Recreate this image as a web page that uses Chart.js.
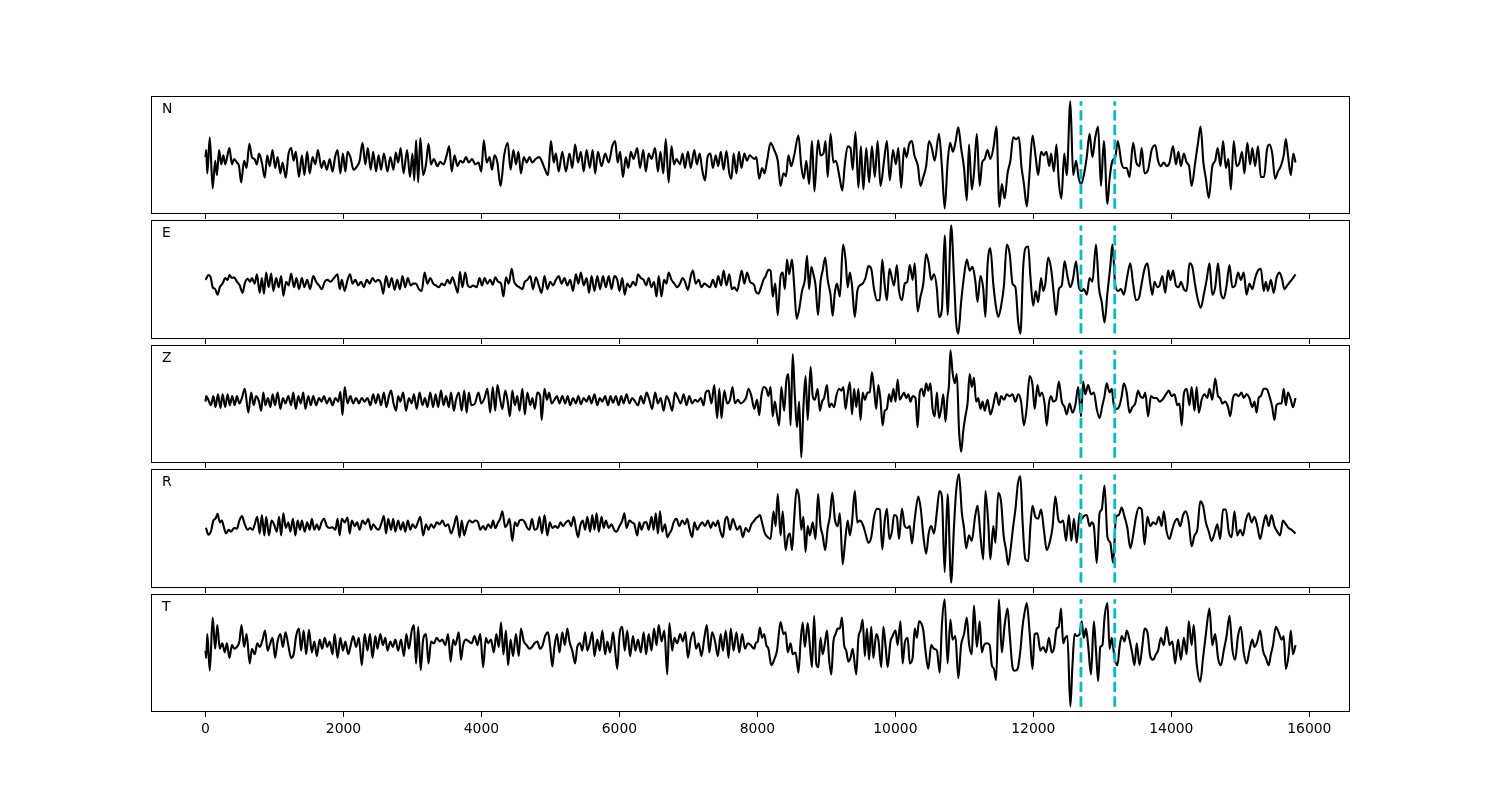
<!DOCTYPE html>
<html>
<head>
<meta charset="utf-8">
<script src="https://cdn.jsdelivr.net/npm/chart.js"></script>
<style>
  html, body { margin: 0; padding: 0; background: #fff; }
  #wrap { position: relative; width: 1500px; height: 800px; overflow: hidden; background: #fff; }
</style>
</head>
<body>
<div id="wrap"></div>
<script>
// component names, shared x ticks and the two pick times (dashed cyan lines)
const channels = ['N', 'E', 'Z', 'R', 'T'];
const xTicks = [0, 2000, 4000, 6000, 8000, 10000, 12000, 14000, 16000];
const pickTimes = [12690, 13180];

// [time, amplitude] samples
const nSamples = [[0,5],[10,25],[26,-40],[62,60],[104,-82],[140,-5],[166,-45],[197,25],[228,-15],[259,10],[285,-15],[347,30],[383,-15],[414,0],[455,-10],[486,-20],[517,-65],[559,-5],[595,-25],[636,42],[673,5],[709,0],[745,-15],[776,15],[817,-10],[859,-52],[895,10],[931,-20],[972,25],[1009,-25],[1045,5],[1086,-40],[1117,-10],[1164,-52],[1200,10],[1241,30],[1278,-5],[1309,20],[1355,-50],[1397,10],[1433,-45],[1474,20],[1510,-40],[1552,5],[1593,-15],[1629,25],[1681,-25],[1717,-5],[1759,-30],[1800,0],[1841,-35],[1878,5],[1914,25],[1955,-40],[1991,15],[2028,-35],[2059,20],[2100,5],[2147,-30],[2198,-20],[2234,-5],[2276,45],[2317,-15],[2353,30],[2395,-30],[2431,20],[2472,-35],[2509,10],[2545,-30],[2586,15],[2638,-35],[2679,5],[2726,-30],[2757,18],[2793,-10],[2829,30],[2871,-40],[2922,25],[2964,-50],[3000,15],[3026,-60],[3052,52],[3083,-65],[3114,58],[3155,-45],[3196,-15],[3233,42],[3269,-15],[3310,0],[3362,-20],[3403,-8],[3450,-15],[3496,10],[3533,35],[3569,-35],[3610,10],[3652,-20],[3693,-5],[3734,-10],[3776,5],[3817,-10],[3864,0],[3910,-15],[3957,-10],[3998,-35],[4034,52],[4076,-10],[4117,5],[4153,-30],[4189,10],[4231,-10],[4277,-75],[4329,10],[4381,45],[4422,-30],[4463,25],[4500,-15],[4536,20],[4572,-40],[4614,5],[4655,-10],[4696,5],[4738,-10],[4784,0],[4836,5],[4872,-5],[4914,-25],[4965,-45],[5007,50],[5048,-10],[5079,15],[5120,-35],[5172,20],[5224,-35],[5276,15],[5317,-25],[5358,40],[5400,-10],[5441,20],[5482,-35],[5524,25],[5570,-25],[5612,25],[5648,-40],[5689,20],[5741,-20],[5793,15],[5845,-10],[5896,35],[5938,50],[5974,-10],[6010,20],[6051,-50],[6093,5],[6129,-25],[6165,20],[6206,0],[6258,30],[6299,-25],[6346,25],[6382,-35],[6424,15],[6465,0],[6517,30],[6558,-35],[6594,20],[6636,-40],[6672,55],[6713,-65],[6755,35],[6791,-15],[6827,0],[6879,-15],[6915,15],[6951,-25],[6993,20],[7034,-25],[7086,25],[7122,-15],[7163,15],[7200,-30],[7241,-60],[7277,5],[7319,15],[7355,-25],[7396,10],[7432,-20],[7469,20],[7510,-30],[7551,22],[7593,-40],[7624,-55],[7655,15],[7696,-40],[7732,20],[7769,-25],[7810,15],[7851,-5],[7887,10],[7955,0],
  [7985,5],[8026,-55],[8067,-25],[8103,-40],[8140,-5],[8191,45],[8243,25],[8295,-5],[8336,-75],[8378,-40],[8414,-48],[8450,10],[8491,-20],[8533,10],[8595,65],[8636,-20],[8672,-55],[8709,-5],[8750,-70],[8791,50],[8827,-90],[8879,52],[8915,10],[8957,15],[8988,50],[9019,-50],[9060,70],[9102,-10],[9138,-5],[9190,-50],[9231,-88],[9267,-15],[9309,35],[9350,30],[9381,-30],[9422,75],[9464,-80],[9500,35],[9536,-85],[9578,30],[9619,-65],[9660,35],[9702,-50],[9743,50],[9784,-75],[9836,-5],[9877,50],[9919,-60],[9965,25],[10007,-15],[10043,30],[10084,-80],[10126,30],[10162,5],[10198,40],[10240,50],[10276,10],[10327,-20],[10364,-75],[10405,-50],[10446,-20],[10488,50],[10529,30],[10570,-5],[10632,70],[10674,-20],[10715,-138],[10757,-10],[10793,45],[10834,20],[10870,45],[10912,88],[10953,30],[10995,-25],[11036,-115],[11067,40],[11108,-85],[11139,-40],[11181,70],[11222,-75],[11258,-10],[11295,0],[11336,25],[11377,0],[11424,35],[11465,90],[11507,-133],[11543,-70],[11584,-110],[11626,-40],[11667,-5],[11708,60],[11750,55],[11791,60],[11827,-20],[11864,-70],[11905,-132],[11941,-50],[11988,65],[12034,5],[12070,-45],[12112,20],[12153,10],[12189,20],[12231,-20],[12257,15],[12298,-35],[12334,40],[12370,-65],[12407,-110],[12448,15],[12484,-45],[12536,160],[12577,-45],[12619,-5],[12655,-50],[12691,-70],[12732,-45],[12774,5],[12815,70],[12856,5],[12898,60],[12939,90],[12980,-75],[13022,50],[13074,-125],[13105,-55],[13146,-5],[13188,5],[13224,50],[13276,-10],[13312,-25],[13353,-25],[13394,-50],[13446,45],[13493,-10],[13539,-20],[13570,30],[13612,-40],[13663,-30],[13715,25],[13767,38],[13808,-5],[13849,-20],[13891,-10],[13932,-20],[13974,-10],[14025,35],[14067,-15],[14103,20],[14139,-20],[14181,15],[14222,-10],[14258,-20],[14294,-75],[14346,-10],[14387,45],[14424,90],[14465,-10],[14501,-55],[14543,-108],[14594,-20],[14636,-5],[14672,30],[14713,-20],[14750,50],[14791,-25],[14827,0],[14863,-85],[14905,50],[14946,-20],[14987,-10],[15024,20],[15060,-40],[15101,45],[15143,-15],[15174,30],[15215,-20],[15256,35],[15298,-50],[15344,-50],[15386,25],[15422,40],[15463,15],[15504,-55],[15546,-35],[15587,-20],[15629,10],[15660,55],[15691,10],[15732,-45],[15768,15],[15800,-10]];

const eSamples = [[0,5],[10,8],[41,18],[78,10],[104,-15],[140,-20],[176,-35],[207,-15],[248,-5],[285,10],[321,5],[347,18],[383,10],[414,12],[455,0],[497,-10],[538,-30],[569,-5],[610,8],[647,0],[673,10],[714,-5],[745,20],[786,-30],[817,10],[848,-32],[879,25],[916,-15],[952,22],[983,-25],[1024,10],[1060,-15],[1097,15],[1128,-38],[1169,0],[1205,-10],[1241,22],[1283,-15],[1319,10],[1355,-20],[1397,10],[1433,-15],[1474,5],[1516,-20],[1562,15],[1603,0],[1645,-10],[1686,-20],[1728,0],[1769,5],[1810,0],[1862,10],[1914,20],[1945,-20],[1976,5],[2017,-25],[2059,5],[2095,20],[2131,-5],[2172,5],[2214,-10],[2255,0],[2296,-15],[2338,5],[2379,-5],[2421,10],[2462,0],[2503,5],[2545,-5],[2576,-32],[2617,15],[2659,-15],[2700,10],[2741,-22],[2778,5],[2819,-20],[2855,15],[2896,-15],[2933,10],[2974,-10],[3010,-5],[3051,-5],[3093,-20],[3134,-25],[3176,25],[3217,-5],[3258,10],[3300,-5],[3341,-10],[3383,-15],[3424,-5],[3465,-10],[3507,5],[3543,-5],[3579,12],[3621,-10],[3657,-30],[3688,27],[3724,-15],[3765,25],[3802,-10],[3838,-15],[3879,-10],[3931,-15],[3972,10],[4008,-10],[4045,10],[4086,-5],[4127,5],[4164,-8],[4200,12],[4241,0],[4283,-5],[4319,-40],[4355,12],[4396,-5],[4438,35],[4474,0],[4510,-10],[4552,-15],[4593,-20],[4629,0],[4665,5],[4707,15],[4748,-20],[4789,12],[4831,-10],[4872,-30],[4914,15],[4955,-20],[4996,0],[5038,-10],[5079,5],[5120,15],[5162,-5],[5203,10],[5245,-10],[5286,5],[5327,-25],[5369,20],[5405,-5],[5441,25],[5482,-10],[5524,10],[5560,-30],[5596,15],[5638,-25],[5679,15],[5720,-20],[5762,15],[5803,-15],[5845,15],[5886,-20],[5927,15],[5969,5],[6000,-25],[6041,10],[6077,-35],[6113,-5],[6155,-15],[6196,0],[6238,-10],[6269,20],[6310,10],[6351,5],[6387,-10],[6424,10],[6465,-15],[6501,0],[6538,-40],[6569,15],[6610,-40],[6646,5],[6682,-5],[6713,25],[6755,5],[6796,-5],[6837,-15],[6879,-5],[6915,10],[6951,0],[6993,-22],[7034,15],[7065,30],[7106,-5],[7148,5],[7189,-15],[7231,-5],[7272,-10],[7313,-15],[7355,5],[7396,-15],[7432,15],[7474,-10],[7510,30],[7551,-10],[7593,20],[7629,-20],[7665,-15],[7706,-25],[7742,5],[7773,30],[7810,-5],[7851,25],[7893,0],[7955,-10],
  [7974,-25],[8016,-32],[8052,-15],[8088,5],[8119,15],[8160,32],[8191,30],[8222,-40],[8259,-5],[8295,-90],[8336,15],[8367,25],[8398,-20],[8429,60],[8460,20],[8502,60],[8533,-10],[8569,-100],[8605,-75],[8647,-25],[8688,5],[8719,70],[8750,-20],[8781,40],[8812,20],[8843,-10],[8879,-90],[8915,0],[8946,30],[8983,65],[9019,5],[9060,-35],[9091,-92],[9122,-30],[9153,-5],[9195,-40],[9241,100],[9278,60],[9309,-15],[9340,25],[9371,-10],[9412,-95],[9448,-25],[9484,-10],[9526,-5],[9567,10],[9609,42],[9650,35],[9691,-20],[9733,-50],[9774,-50],[9810,60],[9846,-10],[9877,-50],[9914,35],[9950,10],[9981,-10],[10022,45],[10053,-25],[10095,-50],[10136,-5],[10172,0],[10209,45],[10250,5],[10281,50],[10322,-80],[10364,-40],[10405,-5],[10446,75],[10483,50],[10519,5],[10560,20],[10602,-20],[10633,-95],[10674,-75],[10715,125],[10757,-90],[10808,152],[10850,10],[10881,-110],[10912,-140],[10953,-55],[10995,15],[11036,60],[11077,30],[11119,40],[11160,0],[11191,-55],[11233,15],[11274,-20],[11305,-95],[11336,45],[11377,90],[11419,-5],[11460,-70],[11491,-95],[11533,-65],[11574,-10],[11615,100],[11657,75],[11698,-5],[11740,-15],[11781,-110],[11812,-140],[11853,40],[11884,90],[11926,95],[11957,15],[11998,-65],[12034,-25],[12070,-55],[12112,10],[12143,-25],[12174,-5],[12215,65],[12257,35],[12298,-35],[12329,-90],[12370,-20],[12412,-10],[12453,55],[12494,15],[12536,-15],[12577,10],[12619,55],[12660,-15],[12701,-25],[12732,-20],[12774,-35],[12815,10],[12856,0],[12908,100],[12950,-15],[12991,-55],[13032,-110],[13074,-30],[13115,40],[13146,100],[13188,-10],[13229,-25],[13270,-20],[13312,-35],[13353,5],[13405,50],[13446,-5],[13488,-50],[13529,-45],[13570,-5],[13612,35],[13653,50],[13695,-5],[13725,-35],[13756,0],[13798,-15],[13829,-10],[13870,15],[13912,-30],[13953,30],[13989,5],[14025,30],[14067,-10],[14108,-15],[14139,0],[14181,-20],[14222,-25],[14263,50],[14305,40],[14346,-10],[14387,-50],[14428,-70],[14470,-35],[14512,5],[14553,50],[14594,-35],[14636,-15],[14677,50],[14718,-30],[14760,-45],[14801,-10],[14843,45],[14884,-15],[14925,-10],[14967,25],[15008,5],[15049,25],[15091,-35],[15132,-5],[15174,-20],[15215,10],[15256,30],[15298,35],[15339,-25],[15370,0],[15401,-25],[15443,5],[15484,-30],[15525,10],[15567,25],[15608,5],[15639,-20],[15680,-10],[15722,0],[15763,10],[15800,20]];

const zSamples = [[0,-3],[10,12],[41,2],[78,-13],[114,12],[145,-18],[181,17],[217,-20],[248,17],[285,-18],[321,17],[352,-13],[388,12],[424,-13],[455,12],[491,-8],[528,7],[569,32],[621,-33],[662,22],[698,-13],[735,12],[776,-3],[807,-28],[838,22],[869,-13],[905,7],[941,-18],[972,17],[1009,-13],[1045,22],[1086,-23],[1122,7],[1159,-8],[1200,12],[1241,-13],[1272,22],[1309,-23],[1345,12],[1381,-8],[1417,22],[1448,-23],[1490,12],[1526,-13],[1562,12],[1603,-13],[1645,7],[1681,-3],[1717,12],[1759,-8],[1800,7],[1841,-13],[1883,7],[1924,-3],[1955,24],[1986,-40],[2017,37],[2059,-8],[2100,12],[2141,-8],[2183,7],[2224,-8],[2265,7],[2307,-3],[2348,7],[2390,-13],[2431,17],[2467,-8],[2503,17],[2545,-13],[2586,22],[2622,-18],[2659,12],[2690,27],[2726,-8],[2762,-28],[2793,12],[2824,-3],[2865,22],[2907,-28],[2948,7],[2990,-8],[3021,17],[3062,-23],[3103,22],[3145,-13],[3181,7],[3217,-18],[3258,22],[3300,-18],[3336,17],[3372,-18],[3414,27],[3450,-13],[3486,12],[3527,-18],[3559,22],[3600,-28],[3631,2],[3672,22],[3714,-28],[3750,27],[3786,-33],[3817,22],[3853,-13],[3905,-8],[3957,22],[3998,-8],[4045,7],[4086,32],[4127,-33],[4164,37],[4200,-28],[4231,42],[4267,7],[4303,-23],[4345,27],[4381,-3],[4412,-43],[4448,27],[4484,-13],[4520,12],[4552,-28],[4593,32],[4629,-38],[4665,22],[4707,-13],[4738,7],[4774,-23],[4810,22],[4851,12],[4872,-53],[4914,32],[4950,2],[4981,22],[5017,-8],[5058,2],[5095,12],[5131,-8],[5172,12],[5214,-8],[5250,12],[5286,-13],[5327,7],[5369,-8],[5405,12],[5441,-10],[5482,7],[5524,-3],[5560,12],[5596,-8],[5638,17],[5679,-13],[5715,7],[5752,-3],[5793,12],[5834,-13],[5870,12],[5907,-6],[5948,12],[5989,-13],[6026,12],[6062,-8],[6103,17],[6145,-8],[6186,7],[6227,-3],[6269,-13],[6310,12],[6351,-8],[6393,22],[6434,2],[6475,-23],[6517,22],[6558,-8],[6599,7],[6641,-28],[6682,12],[6724,-3],[6765,-28],[6806,22],[6848,7],[6889,-8],[6931,17],[6972,-13],[7013,12],[7055,-8],[7096,2],[7137,-3],[7179,7],[7220,-13],[7251,22],[7293,27],[7334,-8],[7375,42],[7417,-48],[7448,32],[7479,-48],[7520,27],[7562,-8],[7603,2],[7639,37],[7675,-8],[7717,2],[7758,-8],[7799,-3],[7835,7],[7872,32],[7913,12],[7955,-23],
  [7995,2],[8026,-40],[8057,12],[8088,37],[8129,32],[8160,12],[8191,37],[8222,-43],[8253,-3],[8284,-38],[8315,-68],[8347,37],[8388,-28],[8419,52],[8450,72],[8481,-68],[8512,127],[8543,12],[8574,-73],[8605,-3],[8636,-156],[8667,-18],[8698,67],[8729,-53],[8771,92],[8802,12],[8833,2],[8874,32],[8905,-28],[8936,-3],[8967,7],[9009,42],[9040,-18],[9071,-8],[9112,-18],[9143,12],[9184,32],[9215,27],[9246,37],[9277,-23],[9308,17],[9340,50],[9371,-38],[9402,32],[9433,-18],[9464,32],[9495,-53],[9526,22],[9557,2],[9598,22],[9629,22],[9660,77],[9691,32],[9722,-23],[9753,42],[9784,2],[9815,-68],[9846,-28],[9877,-23],[9908,17],[9940,-3],[9971,32],[10002,-3],[10033,57],[10064,2],[10095,12],[10126,22],[10157,7],[10188,17],[10219,-3],[10250,12],[10291,7],[10322,-73],[10353,22],[10384,32],[10415,12],[10446,47],[10477,27],[10508,47],[10539,-23],[10570,-43],[10602,22],[10633,-48],[10664,-23],[10695,17],[10726,-58],[10757,12],[10777,42],[10798,137],[10829,77],[10860,47],[10891,72],[10922,-78],[10953,-140],[10984,-83],[11015,-43],[11046,-8],[11077,72],[11108,37],[11139,62],[11170,-3],[11201,7],[11233,-23],[11264,-3],[11295,-28],[11336,2],[11377,-38],[11419,-13],[11460,22],[11501,-13],[11533,12],[11574,2],[11615,17],[11657,12],[11698,17],[11740,-3],[11781,17],[11822,-3],[11864,-68],[11905,-18],[11946,67],[11988,42],[12019,-23],[12060,42],[12091,12],[12122,22],[12163,-8],[12194,-68],[12226,-8],[12257,12],[12288,-3],[12329,2],[12370,52],[12412,-3],[12453,-18],[12484,-38],[12525,-8],[12567,-33],[12608,-13],[12650,37],[12691,-43],[12722,52],[12753,17],[12794,42],[12836,17],[12877,22],[12919,-23],[12960,-48],[13001,-13],[13032,12],[13063,47],[13105,22],[13136,32],[13167,-13],[13208,-23],[13250,-13],[13281,12],[13312,47],[13353,22],[13394,-33],[13436,-18],[13477,-8],[13519,27],[13550,12],[13591,7],[13622,22],[13663,-43],[13705,12],[13746,7],[13787,7],[13829,-3],[13870,2],[13922,17],[13963,27],[14005,12],[14046,17],[14087,-13],[14119,-8],[14150,-68],[14181,17],[14222,32],[14263,-13],[14294,37],[14336,-28],[14367,37],[14398,-33],[14439,2],[14480,17],[14522,7],[14553,32],[14594,2],[14636,60],[14677,12],[14708,7],[14739,-8],[14781,-3],[14822,-18],[14853,-43],[14894,7],[14936,17],[14977,12],[15018,22],[15049,7],[15091,17],[15132,7],[15174,-18],[15205,-3],[15236,-33],[15267,7],[15298,12],[15339,32],[15380,32],[15422,12],[15463,-18],[15494,-53],[15525,-13],[15567,-8],[15598,-8],[15629,32],[15660,-13],[15691,22],[15732,2],[15763,-18],[15800,7]];

const rSamples = [[0,-2],[10,-4],[41,-20],[78,-12],[114,18],[145,23],[176,36],[207,13],[238,18],[269,-2],[300,-17],[336,-7],[372,-12],[414,-2],[455,-4],[491,18],[528,30],[569,8],[610,-7],[647,-2],[683,-7],[714,8],[750,28],[786,-17],[817,33],[853,-22],[879,28],[921,-22],[957,18],[993,8],[1034,-12],[1066,28],[1097,-22],[1128,38],[1164,-2],[1200,13],[1231,-12],[1267,23],[1303,-22],[1335,18],[1371,-7],[1397,18],[1438,-12],[1474,13],[1510,-7],[1541,23],[1578,-7],[1614,8],[1645,-7],[1681,13],[1717,23],[1759,3],[1800,-2],[1841,0],[1883,-7],[1914,23],[1945,-22],[1976,23],[2017,13],[2059,26],[2090,-17],[2121,18],[2162,3],[2198,13],[2234,-7],[2276,18],[2317,8],[2359,23],[2400,-7],[2431,8],[2472,-2],[2509,-7],[2545,8],[2586,30],[2617,-17],[2648,23],[2690,-7],[2721,23],[2752,-12],[2793,18],[2829,-7],[2865,13],[2896,-12],[2933,18],[2969,-7],[3000,8],[3041,-2],[3078,13],[3114,28],[3155,-22],[3196,8],[3233,-7],[3269,8],[3310,-2],[3352,13],[3393,8],[3434,18],[3476,3],[3517,8],[3559,-17],[3600,3],[3641,30],[3683,-27],[3714,18],[3750,-22],[3786,3],[3827,18],[3869,13],[3910,18],[3952,13],[3983,-7],[4024,3],[4060,-7],[4096,8],[4138,-2],[4169,18],[4200,-2],[4241,13],[4272,23],[4303,43],[4345,0],[4376,8],[4407,23],[4448,-37],[4484,13],[4520,3],[4552,18],[4593,20],[4629,13],[4665,-2],[4696,-7],[4733,23],[4769,-7],[4810,-2],[4841,28],[4877,-17],[4914,33],[4955,-22],[4991,13],[5027,-2],[5069,3],[5110,-2],[5146,13],[5183,3],[5224,13],[5265,18],[5301,3],[5338,28],[5369,-2],[5400,-27],[5431,3],[5467,18],[5503,-7],[5534,28],[5576,-12],[5607,33],[5638,-7],[5669,38],[5700,-12],[5741,28],[5772,-2],[5803,18],[5845,-2],[5886,8],[5922,-7],[5958,-12],[6000,3],[6041,18],[6072,38],[6103,-2],[6145,18],[6181,13],[6217,8],[6258,-22],[6289,13],[6320,-7],[6362,13],[6393,13],[6424,-7],[6465,28],[6496,-7],[6527,38],[6558,-17],[6589,43],[6620,-12],[6662,8],[6693,-27],[6724,-17],[6755,-7],[6786,13],[6827,23],[6869,3],[6910,18],[6951,8],[6982,23],[7013,-2],[7055,-27],[7086,13],[7127,-7],[7158,3],[7200,13],[7241,3],[7282,18],[7324,-2],[7355,13],[7396,3],[7427,18],[7458,-7],[7500,-27],[7531,18],[7562,28],[7603,-7],[7644,23],[7675,8],[7706,-7],[7748,3],[7789,-27],[7830,-2],[7872,-12],[7913,8],[7955,18],
  [7974,23],[8005,28],[8036,33],[8067,13],[8109,-17],[8150,-27],[8191,-32],[8233,43],[8264,3],[8295,90],[8336,-22],[8367,43],[8409,-62],[8440,-27],[8471,-17],[8502,-62],[8533,23],[8569,103],[8605,78],[8636,-7],[8667,28],[8698,-67],[8729,3],[8760,-22],[8802,13],[8843,-32],[8879,90],[8915,3],[8946,-22],[8983,-62],[9019,-2],[9050,28],[9086,93],[9122,23],[9164,3],[9195,38],[9236,-100],[9267,-47],[9309,18],[9340,-22],[9371,13],[9412,98],[9448,13],[9484,18],[9526,8],[9567,-17],[9609,-42],[9650,-27],[9691,28],[9733,50],[9774,48],[9810,-60],[9846,18],[9877,50],[9914,-32],[9950,-12],[9981,33],[10022,28],[10053,-32],[10095,50],[10136,3],[10172,-2],[10209,3],[10240,-44],[10281,23],[10333,83],[10369,48],[10405,-22],[10446,-72],[10483,-17],[10519,3],[10560,-17],[10602,43],[10638,98],[10674,83],[10715,-122],[10757,90],[10808,-150],[10850,3],[10881,98],[10922,143],[10964,38],[10995,-2],[11026,-57],[11067,-22],[11108,-37],[11155,28],[11191,58],[11233,-22],[11274,-87],[11305,98],[11346,13],[11377,-87],[11419,3],[11450,-42],[11491,93],[11533,68],[11569,-22],[11605,-62],[11636,-102],[11672,-57],[11708,3],[11740,48],[11776,118],[11812,138],[11843,18],[11884,-87],[11926,-92],[11957,3],[11988,58],[12029,28],[12070,23],[12112,48],[12153,-7],[12194,-62],[12236,-42],[12277,-2],[12319,83],[12360,23],[12391,13],[12432,18],[12474,-37],[12515,33],[12551,-37],[12588,23],[12629,-42],[12670,38],[12701,23],[12732,30],[12774,33],[12815,3],[12846,13],[12877,3],[12919,-97],[12960,38],[12991,48],[13032,113],[13074,-27],[13115,-42],[13157,-97],[13198,28],[13239,33],[13281,53],[13322,28],[13363,-2],[13405,-57],[13446,-22],[13488,28],[13529,53],[13570,48],[13612,-47],[13653,28],[13695,3],[13736,13],[13777,8],[13819,28],[13860,3],[13891,43],[13932,-12],[13974,-32],[14005,-12],[14046,13],[14087,23],[14129,3],[14170,33],[14212,43],[14253,13],[14294,-52],[14336,-22],[14377,-7],[14419,70],[14460,58],[14501,13],[14543,-12],[14584,-37],[14625,-17],[14667,8],[14708,-32],[14750,48],[14791,48],[14832,-12],[14874,-27],[14915,43],[14956,-22],[14998,-7],[15039,-22],[15080,18],[15122,38],[15163,13],[15205,28],[15246,3],[15287,-32],[15329,3],[15370,33],[15412,3],[15453,33],[15494,3],[15536,-12],[15577,-22],[15618,18],[15660,8],[15701,-2],[15743,-7],[15800,-17]];

const tSamples = [[0,-10],[10,-30],[26,35],[62,-65],[104,80],[140,-5],[171,60],[207,-5],[243,10],[279,-15],[310,10],[347,-30],[383,5],[414,-5],[455,0],[491,15],[522,60],[559,0],[595,35],[641,-45],[673,-5],[714,-20],[750,10],[786,0],[828,20],[864,45],[900,-10],[931,5],[972,25],[1009,-30],[1045,15],[1086,35],[1122,0],[1159,40],[1200,5],[1241,-30],[1278,-20],[1314,30],[1355,50],[1386,-10],[1422,45],[1459,-20],[1500,47],[1541,-15],[1578,15],[1614,-25],[1655,20],[1691,-5],[1728,25],[1764,0],[1800,15],[1841,-20],[1872,35],[1914,-30],[1955,25],[1991,-10],[2028,15],[2069,-20],[2105,5],[2141,30],[2183,0],[2224,25],[2265,-50],[2307,35],[2348,-10],[2384,35],[2421,-30],[2462,30],[2493,-5],[2534,35],[2571,5],[2607,25],[2638,-10],[2679,15],[2715,0],[2752,20],[2793,-10],[2834,20],[2876,-25],[2912,35],[2948,-5],[2990,45],[3021,60],[3052,-45],[3083,55],[3119,-63],[3155,20],[3196,35],[3233,-45],[3269,15],[3310,10],[3352,25],[3393,15],[3434,20],[3476,5],[3517,35],[3553,-40],[3590,20],[3621,5],[3672,40],[3703,-35],[3734,5],[3776,20],[3817,15],[3858,10],[3900,30],[3941,5],[3983,35],[4024,-55],[4065,25],[4096,10],[4138,20],[4179,-15],[4215,35],[4252,0],[4283,67],[4319,-20],[4355,45],[4386,-50],[4422,20],[4458,-25],[4500,35],[4541,-25],[4572,50],[4614,15],[4655,5],[4696,-5],[4733,0],[4769,10],[4810,15],[4851,-5],[4888,5],[4924,30],[4965,40],[4996,0],[5027,-53],[5058,0],[5095,35],[5131,-15],[5172,40],[5208,5],[5245,50],[5276,15],[5317,-10],[5358,-45],[5389,0],[5431,10],[5462,-10],[5503,40],[5534,-10],[5576,15],[5607,40],[5638,-25],[5679,20],[5715,-10],[5752,45],[5793,-20],[5824,15],[5865,-15],[5907,40],[5938,-10],[5969,-60],[6000,30],[6041,55],[6077,-10],[6113,45],[6155,-25],[6196,30],[6232,-10],[6269,20],[6310,-15],[6351,40],[6387,-20],[6424,35],[6465,-10],[6501,50],[6538,5],[6569,60],[6610,15],[6651,45],[6693,-75],[6724,65],[6765,-10],[6796,25],[6838,10],[6879,35],[6920,15],[6956,40],[6993,-30],[7034,20],[7075,40],[7112,-5],[7148,10],[7189,-25],[7231,25],[7267,60],[7303,-15],[7344,40],[7386,15],[7427,-25],[7468,35],[7500,-10],[7541,45],[7582,-30],[7613,50],[7655,-10],[7696,40],[7737,-15],[7779,35],[7820,-5],[7862,10],[7903,5],[7955,-5],
  [7974,10],[8005,15],[8036,53],[8067,25],[8098,35],[8129,5],[8160,-5],[8202,-50],[8243,-35],[8284,-10],[8336,68],[8378,35],[8409,40],[8440,-15],[8481,10],[8512,-20],[8553,-15],[8595,-70],[8626,15],[8657,67],[8688,0],[8729,65],[8760,5],[8791,-55],[8822,85],[8853,-45],[8884,-55],[8915,25],[8946,-20],[8978,10],[9009,45],[9040,-35],[9071,-75],[9102,15],[9133,35],[9164,50],[9195,50],[9226,80],[9257,5],[9288,-10],[9319,-40],[9350,-30],[9381,-5],[9433,-75],[9464,25],[9495,45],[9526,75],[9557,-25],[9588,50],[9619,-35],[9650,55],[9681,-30],[9722,35],[9753,20],[9795,-55],[9826,55],[9857,5],[9888,-55],[9929,15],[9960,30],[10002,45],[10033,5],[10074,70],[10105,-45],[10136,10],[10178,25],[10209,-45],[10250,-30],[10281,50],[10312,25],[10343,70],[10374,65],[10405,45],[10436,-10],[10477,-60],[10519,5],[10560,-5],[10602,-10],[10643,-70],[10674,60],[10715,130],[10757,-45],[10798,75],[10829,20],[10870,30],[10912,-85],[10953,5],[10995,35],[11036,80],[11067,10],[11108,-20],[11139,113],[11181,0],[11222,70],[11253,-15],[11284,5],[11326,10],[11367,5],[11398,-50],[11429,-60],[11460,-90],[11501,130],[11543,-15],[11584,60],[11626,105],[11657,35],[11698,-55],[11729,-65],[11771,-60],[11812,-10],[11843,55],[11874,95],[11905,120],[11946,40],[11988,-60],[12019,35],[12060,37],[12101,-10],[12143,0],[12184,-15],[12226,25],[12267,-15],[12298,-5],[12339,50],[12370,55],[12401,105],[12432,10],[12463,25],[12494,30],[12536,-163],[12567,-50],[12598,35],[12629,30],[12670,35],[12701,70],[12732,25],[12763,50],[12794,5],[12836,-75],[12877,70],[12908,-10],[12939,-93],[12970,0],[13001,5],[13032,80],[13074,120],[13105,-5],[13136,25],[13177,-30],[13219,-50],[13250,0],[13281,30],[13322,15],[13353,45],[13394,20],[13436,-20],[13467,-50],[13498,10],[13539,-50],[13581,5],[13612,50],[13653,40],[13694,-25],[13736,-35],[13777,-20],[13808,-10],[13849,25],[13891,5],[13932,55],[13974,5],[14015,15],[14056,-45],[14098,20],[14139,-35],[14181,25],[14222,-20],[14253,70],[14294,5],[14325,60],[14367,-45],[14419,-95],[14460,-30],[14501,35],[14553,105],[14594,5],[14636,35],[14677,-30],[14718,-50],[14760,-10],[14801,30],[14843,85],[14884,-5],[14925,-35],[14967,30],[15008,55],[15049,-15],[15091,-45],[15132,-10],[15174,20],[15205,0],[15246,15],[15287,45],[15329,-10],[15370,-30],[15412,-50],[15443,-20],[15474,5],[15515,55],[15556,40],[15598,20],[15629,30],[15660,-60],[15701,-20],[15732,45],[15763,-20],[15800,5]];

const traces = [nSamples, eSamples, zSamples, rSamples, tSamples];

// layout of the five stacked panels (pixels)
const panelTops = [96, 220, 345, 469, 594];
const panelHeights = [118, 119, 118, 119, 118];
const plotLeft = 151, plotRight = 1350;
const padTop = 6, axisRoom = 40;

// box around each panel plus the component letter in the corner
const framePlugin = {
  id: 'frame',
  afterDatasetsDraw(chart, args, opts) {
    const a = chart.chartArea;
    const ctx = chart.ctx;
    ctx.save();
    ctx.strokeStyle = '#000';
    ctx.lineWidth = 1;
    ctx.strokeRect(a.left + 0.5, a.top + 0.5, a.right - a.left - 1, a.bottom - a.top - 1);
    ctx.fillStyle = '#000';
    ctx.font = '13.9px "DejaVu Sans"';
    ctx.textBaseline = 'alphabetic';
    ctx.fillText(opts.label, a.left + 11, a.top + 17);
    ctx.restore();
  }
};

const wrap = document.getElementById('wrap');

traces.forEach((samples, i) => {
  const h = panelHeights[i] + padTop + axisRoom;
  const canvas = document.createElement('canvas');
  canvas.width = 1500;
  canvas.height = h;
  canvas.style.position = 'absolute';
  canvas.style.left = '0px';
  canvas.style.top = (panelTops[i] - padTop) + 'px';
  canvas.style.width = '1500px';
  canvas.style.height = h + 'px';
  wrap.appendChild(canvas);

  const amps = samples.map(s => s[1]);
  const lo = Math.min(...amps);
  const hi = Math.max(...amps);
  const margin = 0.05 * (hi - lo);
  const isLast = i === traces.length - 1;

  const pickSets = pickTimes.map(p => ({
    data: [{ x: p, y: lo }, { x: p, y: hi }],
    borderColor: '#00BFBF',
    borderWidth: 2.8,
    borderDash: [10.3, 4.4],
    pointRadius: 0
  }));

  new Chart(canvas, {
    type: 'line',
    data: {
      datasets: [
        ...pickSets,
        {
          data: samples.map(([t, a]) => ({ x: t, y: a })),
          borderColor: '#000',
          borderWidth: 2.1,
          pointRadius: 0,
          cubicInterpolationMode: 'monotone',
          fill: false
        }
      ]
    },
    options: {
      responsive: false,
      animation: false,
      events: [],
      layout: { padding: { top: padTop, left: plotLeft, right: 1500 - plotRight, bottom: 0 } },
      plugins: {
        legend: { display: false },
        tooltip: { enabled: false },
        frame: { label: channels[i] }
      },
      scales: {
        x: {
          type: 'linear',
          min: -790,
          max: 16590,
          afterBuildTicks: s => { s.ticks = xTicks.map(v => ({ value: v })); },
          afterFit: s => { s.height = axisRoom; },
          border: { display: false },
          grid: { drawOnChartArea: false, drawTicks: true, tickLength: 5, color: '#000', lineWidth: 1 },
          ticks: {
            display: isLast,
            color: '#000',
            padding: 4,
            maxRotation: 0,
            minRotation: 0,
            autoSkip: false,
            font: { family: 'DejaVu Sans', size: 13.9 },
            callback: v => String(v)
          }
        },
        y: { display: false, min: lo - margin, max: hi + margin }
      }
    },
    plugins: [framePlugin]
  });
});
</script>
</body>
</html>
